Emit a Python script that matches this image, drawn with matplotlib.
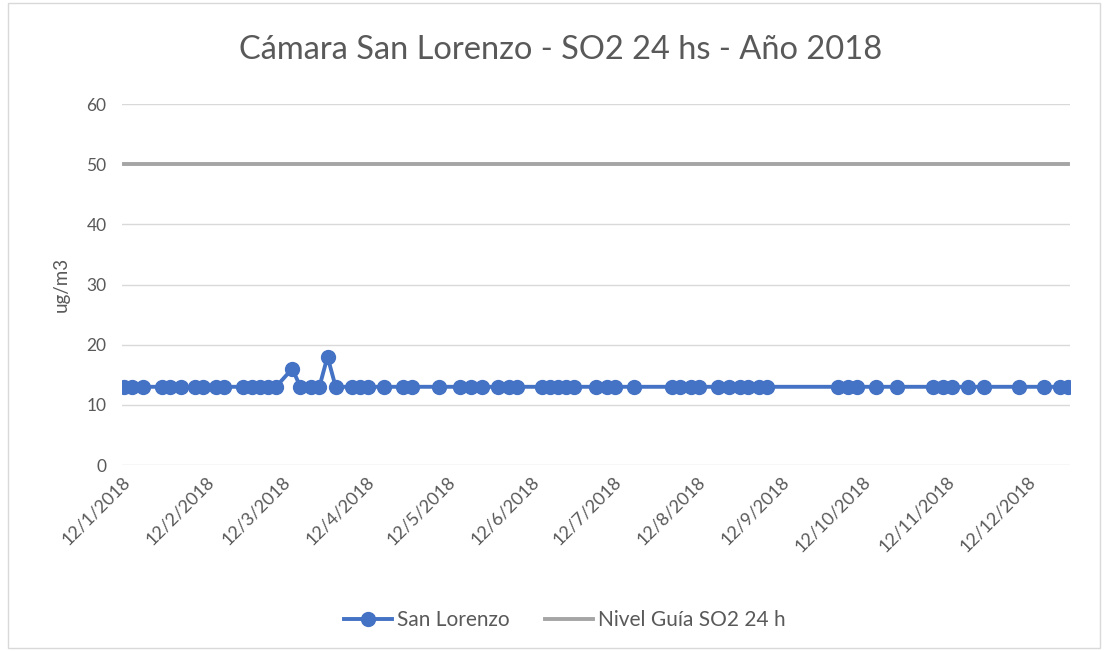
import matplotlib
matplotlib.use("Agg")
import matplotlib.pyplot as plt
import matplotlib.transforms as mtransforms
import pandas as pd
from matplotlib.patches import Rectangle

title = "Cámara San Lorenzo - SO2 24 hs - Año 2018"
ylabel = "ug/m3"
series_name = "San Lorenzo"
guide_name = "Nivel Guía SO2 24 h"
guide_value = 50

dates = [
    "2018-01-10", "2018-01-13", "2018-01-17", "2018-01-24", "2018-01-27", "2018-01-31",
    "2018-02-05", "2018-02-08", "2018-02-13", "2018-02-16", "2018-02-23", "2018-02-26",
    "2018-03-01", "2018-03-04", "2018-03-07", "2018-03-13", "2018-03-16", "2018-03-20",
    "2018-03-23", "2018-03-26", "2018-03-29", "2018-04-04", "2018-04-07", "2018-04-10",
    "2018-04-16", "2018-04-23", "2018-04-26", "2018-05-06", "2018-05-14", "2018-05-18",
    "2018-05-22", "2018-05-28", "2018-06-01", "2018-06-04", "2018-06-13", "2018-06-16",
    "2018-06-19", "2018-06-22", "2018-06-25", "2018-07-03", "2018-07-07", "2018-07-10",
    "2018-07-17", "2018-07-31", "2018-08-03", "2018-08-07", "2018-08-10", "2018-08-17",
    "2018-08-21", "2018-08-25", "2018-08-28", "2018-09-01", "2018-09-04", "2018-09-30",
    "2018-10-04", "2018-10-07", "2018-10-14", "2018-10-22", "2018-11-04", "2018-11-08",
    "2018-11-11", "2018-11-17", "2018-11-23", "2018-12-06", "2018-12-15", "2018-12-21",
    "2018-12-24",
]
values = [
    13, 13, 13, 13, 13, 13,
    13, 13, 13, 13, 13, 13,
    13, 13, 13, 16, 13, 13,
    13, 18, 13, 13, 13, 13,
    13, 13, 13, 13, 13, 13,
    13, 13, 13, 13, 13, 13,
    13, 13, 13, 13, 13, 13,
    13, 13, 13, 13, 13, 13,
    13, 13, 13, 13, 13, 13,
    13, 13, 13, 13, 13, 13,
    13, 13, 13, 13, 13, 13,
    13,
]
tick_dates = ["2018-%02d-12" % m for m in range(1, 13)]
tick_labels = ["12/%d/2018" % m for m in range(1, 13)]
yticks = [0, 10, 20, 30, 40, 50, 60]

plt.rcParams['font.family'] = ['Lato', 'DejaVu Sans']
fig = plt.figure(figsize=(11.08, 6.51), dpi=100)
fig.patches.append(Rectangle((0.007, 0.005), 0.986, 0.99, transform=fig.transFigure,
                             fill=False, edgecolor="#D9D9D9", linewidth=1))
ax = fig.add_axes([0.110, 0.2857, 0.856, 0.5545])

x = pd.to_datetime(dates)
blue = "#4472C4"
gray = "#A5A5A5"
ax.plot(x, values, color=blue, linewidth=2.8, marker="o", markersize=10,
        label=series_name, zorder=3)
ax.plot([x[0], x[-1]], [guide_value, guide_value], color=gray, linewidth=2.8,
        label=guide_name, zorder=2)

ax.set_xlim(x[0] - pd.Timedelta(days=0.8), x[-1] + pd.Timedelta(days=0.8))
ax.set_ylim(0, 60)
ax.set_yticks(yticks)
ax.set_xticks(pd.to_datetime(tick_dates))
ax.grid(axis="y", color="#D9D9D9", linewidth=1)
ax.set_axisbelow(True)
for s in ax.spines.values():
    s.set_visible(False)
ax.tick_params(axis="both", length=0, colors="#595959", labelsize=13)
ax.tick_params(axis="y", pad=11, labelsize=12.5)
ax.tick_params(axis="x", pad=6)
ax.set_xticklabels(tick_labels, rotation=45, ha="right", rotation_mode="anchor")
offset = mtransforms.ScaledTranslation(-8 / 100, 0, fig.dpi_scale_trans)
for lbl in ax.get_xticklabels():
    lbl.set_transform(lbl.get_transform() + offset)
ax.set_ylabel(ylabel, color="#595959", fontsize=13.5, labelpad=12)
fig.text(0.506, 1 - 50 / 651, title, color="#595959", fontsize=23.5,
         ha="center", va="center")

leg = fig.legend(loc="center", bbox_to_anchor=(0.51, 0.047), ncol=2, frameon=False,
                 fontsize=15, handlelength=2.3, columnspacing=1.7, handletextpad=0.25)
for t in leg.get_texts():
    t.set_color("#595959")

fig.savefig("out.png", dpi=100, facecolor="white")
